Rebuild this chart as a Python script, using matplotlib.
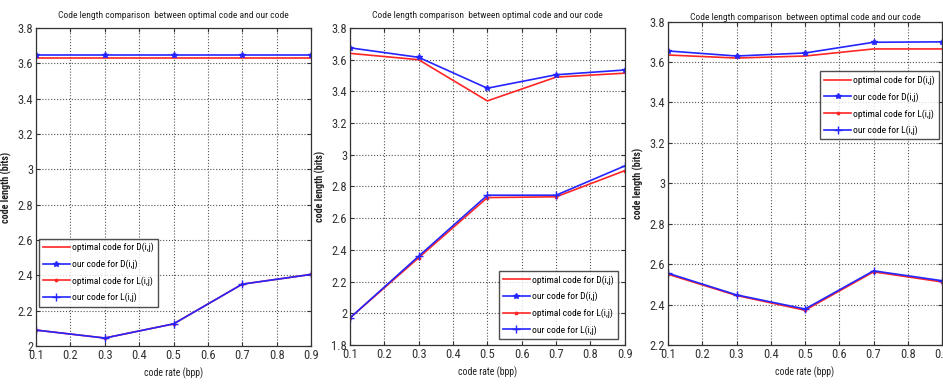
import matplotlib.pyplot as plt
from matplotlib import font_manager

names = {f.name for f in font_manager.fontManager.ttflist}
main_font = "Liberation Sans"
for cand in ["Liberation Sans Narrow", "Roboto Condensed", "Open Sans Condensed"]:
    if cand in names:
        main_font = cand
        break
plt.rcParams["font.family"] = [main_font, "DejaVu Sans"]

rate = [0.1, 0.3, 0.5, 0.7, 0.9]

opt_d_1 = [3.63, 3.63, 3.63, 3.63, 3.63]
our_d_1 = [3.65, 3.65, 3.65, 3.65, 3.65]
opt_l_1 = [2.09, 2.045, 2.125, 2.35, 2.405]
our_l_1 = [2.09, 2.045, 2.125, 2.35, 2.405]

opt_d_2 = [3.64, 3.60, 3.34, 3.49, 3.515]
our_d_2 = [3.675, 3.615, 3.42, 3.505, 3.535]
opt_l_2 = [1.97, 2.35, 2.73, 2.735, 2.90]
our_l_2 = [1.97, 2.36, 2.745, 2.745, 2.93]

opt_d_3 = [3.635, 3.62, 3.63, 3.665, 3.665]
our_d_3 = [3.655, 3.63, 3.645, 3.698, 3.70]
opt_l_3 = [2.55, 2.445, 2.372, 2.562, 2.512]
our_l_3 = [2.555, 2.448, 2.378, 2.567, 2.518]

labels = ["optimal code for D(i,j)", "our code for D(i,j)",
          "optimal code for L(i,j)", "our code for L(i,j)"]
title = "Code length comparison  between optimal code and our code"

fig = plt.figure(figsize=(9.43, 3.84), dpi=100)


def draw_panel(rect, series, ylim, yticks, legend_kw, title_pad):
    ax = fig.add_axes(rect)
    opt_d, our_d, opt_l, our_l = series
    ax.plot(rate, opt_d, color="#ff2525", lw=1.2, label=labels[0])
    ax.plot(rate, our_d, color="#2525ff", lw=1.2, marker="*", ms=4, label=labels[1])
    ax.plot(rate, opt_l, color="#ff2525", lw=1.2, marker=".", ms=3.5, label=labels[2])
    ax.plot(rate, our_l, color="#2525ff", lw=1.2, marker="+", ms=5.5, label=labels[3])

    ax.set_xlim(0.1, 0.9)
    ax.set_ylim(*ylim)
    ax.set_xticks([0.1, 0.2, 0.3, 0.4, 0.5, 0.6, 0.7, 0.8, 0.9])
    ax.set_xticklabels(["0.1", "0.2", "0.3", "0.4", "0.5", "0.6", "0.7", "0.8", "0.9"])
    ax.set_yticks(yticks)
    ax.set_yticklabels([f"{t:g}" for t in yticks])
    ax.tick_params(direction="in", labelsize=9, length=3, top=True, right=True,
                   pad=2, colors="#333333")
    ax.grid(True, linestyle=":", color="#555555", lw=0.8)
    for s in ax.spines.values():
        s.set_color("#333333")
        s.set_linewidth(0.9)

    ax.set_title(title, fontsize=6.8, pad=title_pad, color="#222222")
    ax.set_xlabel("code rate (bpp)", fontsize=7, labelpad=4, color="#222222")
    ax.set_ylabel("code length (bits)", fontsize=7.2, fontweight="bold",
                  labelpad=4, color="#222222")

    leg = ax.legend(fontsize=6.8, frameon=True, fancybox=False,
                    handlelength=2.8, borderpad=0.45, labelspacing=0.75,
                    handletextpad=0.25, borderaxespad=0.3, **legend_kw)
    leg.get_frame().set_edgecolor("#222222")
    leg.get_frame().set_linewidth(1.0)
    return ax


draw_panel([0.0382, 0.099, 0.2916, 0.828],
           (opt_d_1, our_d_1, opt_l_1, our_l_1),
           (2.0, 3.8), [2, 2.2, 2.4, 2.6, 2.8, 3, 3.2, 3.4, 3.6, 3.8],
           dict(loc="lower left", bbox_to_anchor=(0.0, 0.115)), 7)

draw_panel([0.371, 0.1016, 0.2916, 0.8255],
           (opt_d_2, our_d_2, opt_l_2, our_l_2),
           (1.8, 3.8), [1.8, 2, 2.2, 2.4, 2.6, 2.8, 3, 3.2, 3.4, 3.6, 3.8],
           dict(loc="lower right", bbox_to_anchor=(0.985, 0.01)), 7)

draw_panel([0.7084, 0.1016, 0.2906, 0.842],
           (opt_d_3, our_d_3, opt_l_3, our_l_3),
           (2.2, 3.8), [2.2, 2.4, 2.6, 2.8, 3, 3.2, 3.4, 3.6, 3.8],
           dict(loc="upper right", bbox_to_anchor=(1.0, 0.855)), 1.5)

fig.savefig("out.png", dpi=100)
